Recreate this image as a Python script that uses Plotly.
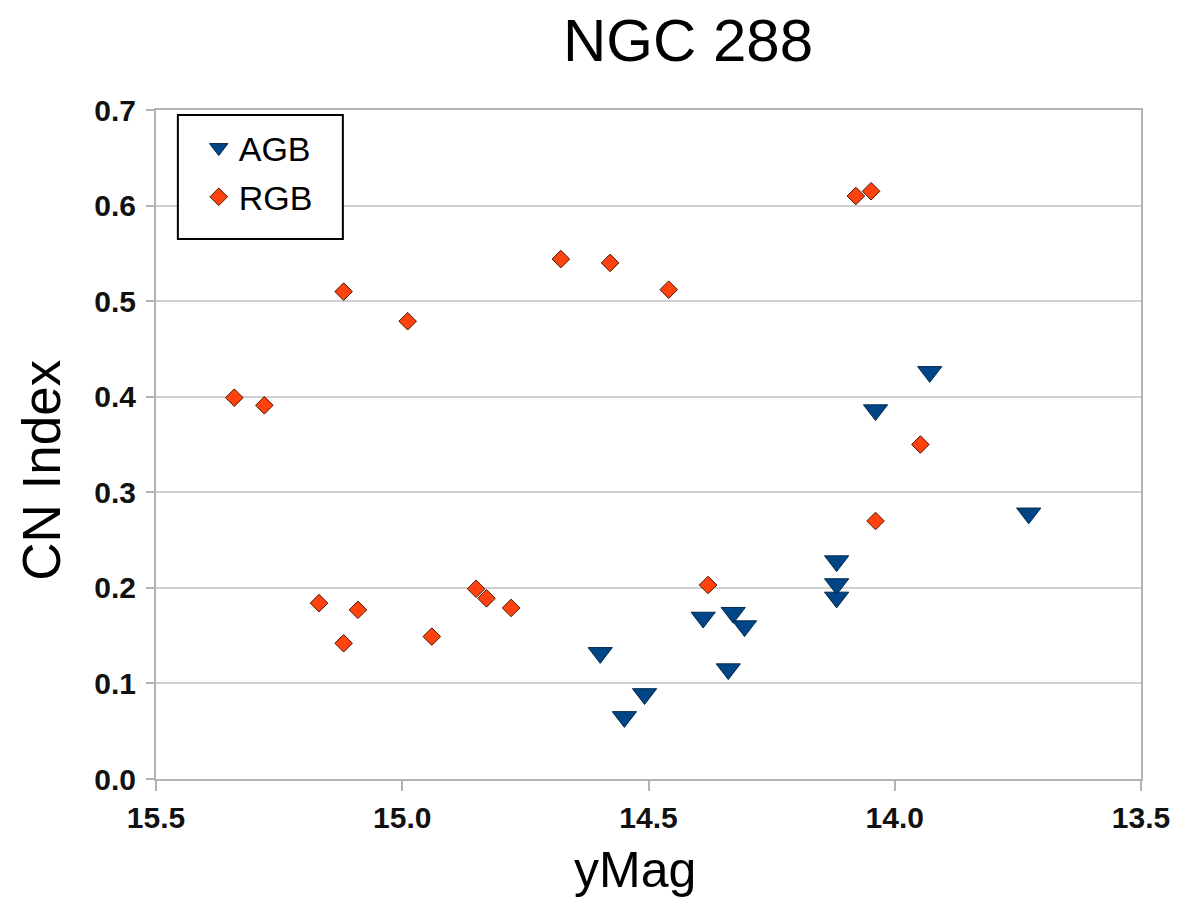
import plotly.graph_objects as go

# Data
agb_mag = [14.598, 14.549, 14.508, 14.389, 14.328, 14.305, 14.338, 14.118, 14.118, 14.118, 14.039, 13.929, 13.728]
agb_cn = [0.132, 0.065, 0.089, 0.169, 0.174, 0.160, 0.115, 0.228, 0.204, 0.190, 0.386, 0.426, 0.278]

rgb_mag = [15.341, 15.280, 15.119, 14.989, 14.678, 14.578, 14.459, 14.079, 14.048, 13.948,
           14.039, 14.379, 15.169, 15.119, 15.090, 14.940, 14.850, 14.829, 14.779]
rgb_cn = [0.399, 0.391, 0.510, 0.479, 0.544, 0.540, 0.512, 0.610, 0.615, 0.350,
          0.270, 0.203, 0.184, 0.142, 0.177, 0.149, 0.199, 0.189, 0.179]

series_names = ["AGB", "RGB"]
x_ticks = [15.5, 15.0, 14.5, 14.0, 13.5]
y_ticks = [0.0, 0.1, 0.2, 0.3, 0.4, 0.5, 0.6, 0.7]

W, H = 1182, 912
L, R, T, B = 156, 1147, 110, 779


def px(x):
    return (x - L) / (R - L)


def py(y):
    return (B - y) / (B - T)


fig = go.Figure()
fig.add_trace(go.Scatter(
    x=agb_mag, y=agb_cn, mode="markers", name=series_names[0], legendgroup="a",
    marker=dict(symbol="triangle-down", size=21, color="#004586",
                line=dict(color="#00284d", width=1)),
))
fig.add_trace(go.Scatter(
    x=rgb_mag, y=rgb_cn, mode="markers", name=series_names[1], legendgroup="b",
    marker=dict(symbol="diamond", size=13.5, color="#ff420e",
                line=dict(color="#4a1500", width=1)),
))

axis_common = dict(
    showline=True, linecolor="#b3b3b3", linewidth=2,
    ticks="outside", tickcolor="#b3b3b3", tickwidth=2,
    tickfont=dict(family="Liberation Sans", size=30, color="#111111", weight="bold"),
    zeroline=False,
)

fig.update_layout(
    width=W, height=H,
    margin=dict(l=L, r=W - R, t=T, b=H - B),
    paper_bgcolor="white", plot_bgcolor="white",
    showlegend=True,
    legend=dict(
        x=px(199), y=py(119), xanchor="left", yanchor="top",
        bgcolor="rgba(0,0,0,0)", borderwidth=0,
        font=dict(family="Liberation Sans", size=34, color="black"),
        tracegroupgap=2,
    ),
    xaxis=dict(
        range=[15.5, 13.5], tickvals=x_ticks, ticktext=[f"{v:.1f}" for v in x_ticks],
        showgrid=False, ticklen=10, mirror=True, ticklabelstandoff=1,
        **axis_common,
    ),
    yaxis=dict(
        range=[0, 0.7], tickvals=y_ticks, ticktext=[f"{v:.1f}" for v in y_ticks],
        showgrid=True, gridcolor="#d0d0d0", gridwidth=2, ticklen=8, mirror=True,
        ticklabelstandoff=4,
        **axis_common,
    ),
    shapes=[dict(
        type="rect", xref="paper", yref="paper",
        x0=px(178), x1=px(344), y0=py(239), y1=py(115),
        line=dict(color="black", width=2), fillcolor="white", layer="above",
    )],
    annotations=[
        dict(text="NGC 288", x=px(691), y=py(40), xref="paper", yref="paper",
             xanchor="center", yanchor="middle", showarrow=False,
             font=dict(family="Liberation Sans", size=60, color="black")),
        dict(text="yMag", x=px(638), y=py(870), xref="paper", yref="paper",
             xanchor="center", yanchor="middle", showarrow=False,
             font=dict(family="Liberation Sans", size=50, color="black")),
        dict(text="CN Index", x=px(40), y=py(470), xref="paper", yref="paper",
             xanchor="center", yanchor="middle", showarrow=False, textangle=-90,
             font=dict(family="Liberation Sans", size=53, color="black")),
    ],
)

fig.write_html("out.html")
